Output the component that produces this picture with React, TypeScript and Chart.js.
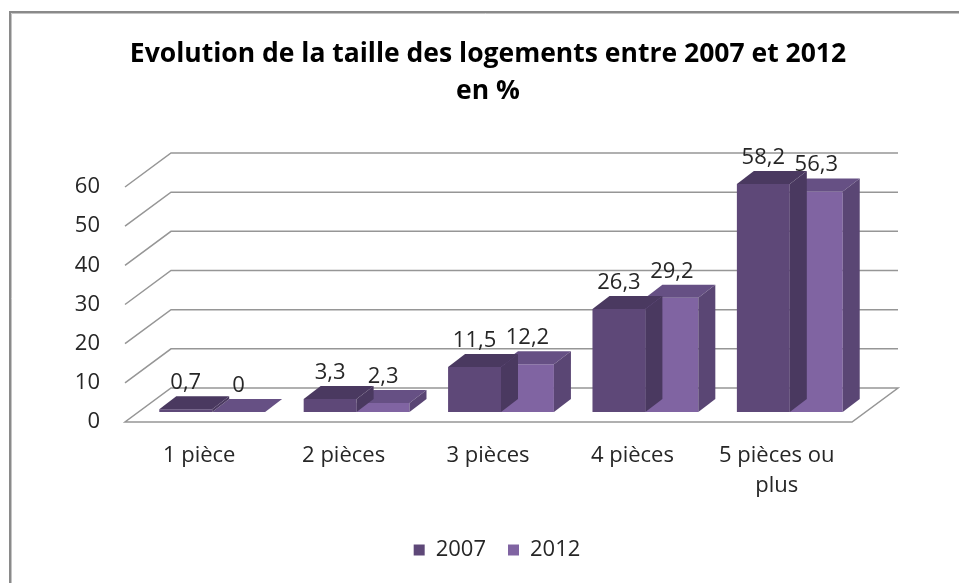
import React, { useEffect, useRef } from "react";
import { Chart, registerables } from "chart.js";

Chart.register(...registerables);

const categories: string[][] = [["1 pièce"], ["2 pièces"], ["3 pièces"], ["4 pièces"], ["5 pièces ou", "plus"]];
const seriesNames = ["2007", "2012"];
const values2007 = [0.7, 3.3, 11.5, 26.3, 58.2];
const values2012 = [0, 2.3, 12.2, 29.2, 56.3];
const yTickValues = [0, 10, 20, 30, 40, 50, 60];
const titleLines = ["Evolution de la taille des logements entre 2007 et 2012", "en %"];

const FONT = "'Open Sans'";
const FLOOR_DEPTH = { x: 46, y: -34 };
const BAR_SHIFT = { x: 13, y: -10 };
const BAR_DEPTH = { x: 17, y: -13 };
const frontColors = ["#5E4878", "#8064A2"];
const topColors = ["#4A3960", "#665084"];
const sideColors = ["#4A3960", "#5A4674"];
const GRID_COLOR = "#969696";
const TEXT_COLOR = "#262626";

const fmt = (v: number) => String(v).replace(".", ",");

const threeD = {
  id: "threeD",
  beforeDraw(chart: any) {
    const ctx = chart.ctx;
    ctx.save();
    ctx.fillStyle = "#ffffff";
    ctx.fillRect(0, 0, chart.width, chart.height);
    ctx.strokeStyle = "#8a8a8a";
    ctx.lineWidth = 2;
    ctx.beginPath();
    ctx.moveTo(10, chart.height + 5);
    ctx.lineTo(10, 12);
    ctx.lineTo(chart.width + 5, 12);
    ctx.stroke();
    ctx.strokeStyle = "#c4c4c4";
    ctx.lineWidth = 1;
    ctx.beginPath();
    ctx.moveTo(11.5, chart.height + 5);
    ctx.lineTo(11.5, 13.5);
    ctx.lineTo(chart.width + 5, 13.5);
    ctx.stroke();
    ctx.restore();
  },
  beforeDatasetsDraw(chart: any) {
    const ctx = chart.ctx;
    const y = chart.scales.y;
    const { left, right } = chart.chartArea;
    ctx.save();
    ctx.strokeStyle = GRID_COLOR;
    ctx.lineWidth = 1.5;
    const y0 = y.getPixelForValue(0);
    ctx.fillStyle = "#ffffff";
    ctx.beginPath();
    ctx.moveTo(left - 2, y0);
    ctx.lineTo(right + 3, y0);
    ctx.lineTo(right + 3 + FLOOR_DEPTH.x, y0 + FLOOR_DEPTH.y);
    ctx.lineTo(left - 2 + FLOOR_DEPTH.x, y0 + FLOOR_DEPTH.y);
    ctx.closePath();
    ctx.fill();
    ctx.stroke();
    for (const v of yTickValues) {
      if (v === 0) continue;
      const py = y.getPixelForValue(v);
      ctx.beginPath();
      ctx.moveTo(left - 2, py);
      ctx.lineTo(left - 2 + FLOOR_DEPTH.x, py + FLOOR_DEPTH.y);
      ctx.lineTo(right + 3 + FLOOR_DEPTH.x, py + FLOOR_DEPTH.y);
      ctx.stroke();
    }
    ctx.restore();
  },
  beforeDatasetDraw(chart: any) {
    chart.ctx.save();
    chart.ctx.translate(BAR_SHIFT.x, BAR_SHIFT.y);
  },
  afterDatasetDraw(chart: any, args: any) {
    const ctx = chart.ctx;
    const i = args.index;
    for (const el of args.meta.data) {
      const l = el.x - el.width / 2;
      const r = el.x + el.width / 2;
      const t = el.y;
      const b = el.base;
      ctx.fillStyle = topColors[i];
      ctx.beginPath();
      ctx.moveTo(l, t);
      ctx.lineTo(r, t);
      ctx.lineTo(r + BAR_DEPTH.x, t + BAR_DEPTH.y);
      ctx.lineTo(l + BAR_DEPTH.x, t + BAR_DEPTH.y);
      ctx.closePath();
      ctx.fill();
      ctx.fillStyle = sideColors[i];
      ctx.beginPath();
      ctx.moveTo(r, t);
      ctx.lineTo(r + BAR_DEPTH.x, t + BAR_DEPTH.y);
      ctx.lineTo(r + BAR_DEPTH.x, b + BAR_DEPTH.y);
      ctx.lineTo(r, b);
      ctx.closePath();
      ctx.fill();
    }
    ctx.restore();
  },
  afterDatasetsDraw(chart: any) {
    const ctx = chart.ctx;
    ctx.save();
    ctx.font = `22px ${FONT}`;
    ctx.fillStyle = TEXT_COLOR;
    ctx.textAlign = "center";
    ctx.textBaseline = "alphabetic";
    chart.data.datasets.forEach((ds: any, di: number) => {
      const meta = chart.getDatasetMeta(di);
      meta.data.forEach((el: any, k: number) => {
        ctx.fillText(fmt(ds.data[k]), el.x + BAR_SHIFT.x, el.y + BAR_SHIFT.y - 20);
      });
    });
    ctx.restore();
  },
};

export default function App() {
  const ref = useRef<HTMLCanvasElement>(null);
  useEffect(() => {
    if (!ref.current) return;
    const chart = new Chart(ref.current, {
      type: "bar",
      data: {
        labels: categories,
        datasets: [
          { label: seriesNames[0], data: values2007, backgroundColor: frontColors[0], borderWidth: 0, clip: false as any },
          { label: seriesNames[1], data: values2012, backgroundColor: frontColors[1], borderWidth: 0, clip: false as any },
        ],
      },
      options: {
        responsive: false,
        animation: false,
        devicePixelRatio: 1,
        events: [],
        layout: { padding: { left: 35, right: 0, top: 0, bottom: 12 } },
        datasets: { bar: { categoryPercentage: 0.733, barPercentage: 1 } },
        scales: {
          x: {
            grid: { display: false, drawTicks: false },
            border: { display: false },
            ticks: {
              padding: 19,
              autoSkip: false,
              maxRotation: 0,
              color: TEXT_COLOR,
              font: { family: FONT, size: 22, lineHeight: 1.36 },
            },
            afterFit: (s: any) => { s.height = 95; },
          },
          y: {
            min: 0,
            max: 60,
            grid: { display: false, drawTicks: false },
            border: { display: false },
            ticks: {
              stepSize: 10,
              padding: 27,
              color: TEXT_COLOR,
              font: { family: FONT, size: 22 },
            },
            afterFit: (s: any) => { s.width = 92; },
          },
          yR: {
            position: "right",
            display: true,
            grid: { display: false, drawTicks: false },
            border: { display: false },
            ticks: { display: false },
            afterFit: (s: any) => { s.width = 110; },
          },
        },
        plugins: {
          tooltip: { enabled: false },
          title: {
            display: true,
            fullSize: false,
            text: titleLines,
            color: "#000000",
            font: { family: FONT, size: 26.5, weight: "bold", lineHeight: 37 / 26.5 },
            padding: { top: 36, bottom: 77 },
          },
          legend: {
            position: "bottom",
            labels: {
              boxWidth: 11,
              boxHeight: 11,
              padding: 22,
              color: TEXT_COLOR,
              font: { family: FONT, size: 22 },
            },
          },
        },
      } as any,
      plugins: [threeD],
    });
    return () => chart.destroy();
  }, []);
  return (
    <div style={{ position: "fixed", left: 0, top: 0, width: 959, height: 583, background: "#fff" }}>
      <canvas ref={ref} width={959} height={583} style={{ display: "block" }} />
    </div>
  );
}
